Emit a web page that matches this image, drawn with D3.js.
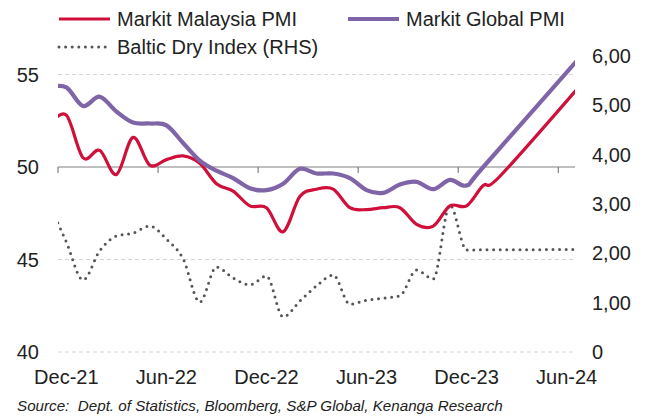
<!DOCTYPE html>
<head>
  <meta charset="utf-8">
  <script src="https://cdn.jsdelivr.net/npm/d3@7"></script>
  <style>
    body { margin: 0; background: #fff; }
    svg { width: 646px; height: 416px; font-family: "Liberation Sans", Arial, sans-serif; }
  </style>
</head>

<body>
  <svg></svg>

  <script>
    // months Nov-21 .. Jul-24 (Nov-21 and Jul-24 sit just outside the plot and get clipped)
    const months = d3.timeMonth.range(new Date(2021, 10, 1), new Date(2024, 7, 1));

    const malaysiaPMI = [52.3, 52.8, 50.5, 50.9, 49.6, 51.6, 50.1, 50.4, 50.6, 50.2, 49.1, 48.7,
      47.9, 47.8, 46.5, 48.4, 48.8, 48.8, 47.8, 47.7, 47.8, 47.8, 46.9, 46.8, 47.9, 47.9,
      49.0, 49.5, null, null, null, null, 54.6];

    const globalPMI = [54.3, 54.3, 53.3, 53.8, 53.0, 52.4, 52.35, 52.25, 51.3, 50.35, 49.8, 49.4,
      48.85, 48.75, 49.1, 49.9, 49.65, 49.65, 49.4, 48.75, 48.6, 49.05, 49.2, 48.8, 49.3, 49.0,
      50.0, null, null, null, null, null, 56.14];

    const balticDry = [2.98, 2.23, 1.46, 2.05, 2.35, 2.41, 2.55, 2.29, 1.89, 1.01, 1.72, 1.5,
      1.36, 1.54, 0.71, 1.03, 1.34, 1.56, 0.97, 1.05, 1.09, 1.14, 1.66, 1.48, 2.98, 2.07,
      null, null, null, null, null, null, 2.08];

    const leftTicks = [40, 45, 50, 55];
    const rightTicks = [0, 1, 2, 3, 4, 5, 6];
    const xTickMonths = [1, 7, 13, 19, 25, 31]; // Dec-21 .. Jun-24
    const sourceText = 'Source:  Dept. of Statistics, Bloomberg, S&P Global, Kenanga Research';

    const plotL = 58, plotR = 575, plotT = 56, plotB = 352;
    const fmt = d3.timeFormat('%b-%y');
    const fmtRight = d => d === 0 ? '0' : d3.format('.2f')(d).replace('.', ',');

    const svg = d3.select('svg');

    // category index scale: month i occupies [i-1, i] relative to Dec-21, point drawn in the middle
    const x = d3.scaleLinear().domain([1, 32]).range([plotL, plotR]);
    const px = i => x(i + 0.5);
    const y = d3.scaleLinear().domain([40, 56]).range([plotB, plotT]);
    const yR = d3.scaleLinear().domain([0, 6]).range([plotB, plotT]);

    svg.append('clipPath').attr('id', 'plot')
      .append('rect').attr('x', plotL).attr('y', 0).attr('width', plotR - plotL).attr('height', plotB + 10);

    // gridlines
    svg.append('g').selectAll('line')
      .data(leftTicks.filter(d => d !== 50)).enter().append('line')
      .attr('x1', plotL).attr('x2', plotR)
      .attr('y1', d => y(d)).attr('y2', d => y(d))
      .attr('stroke', '#d4d4d4').attr('stroke-width', 1).attr('stroke-dasharray', '4 3');

    // left labels
    svg.append('g').selectAll('text')
      .data(leftTicks).enter().append('text')
      .attr('x', 39).attr('y', d => y(d)).attr('dy', '0.35em')
      .attr('text-anchor', 'end').attr('font-size', 20).attr('fill', '#222')
      .text(d => d);

    // right labels
    svg.append('g').selectAll('text')
      .data(rightTicks).enter().append('text')
      .attr('x', 592).attr('y', d => yR(d)).attr('dy', '0.35em')
      .attr('font-size', 20).attr('fill', '#222')
      .text(fmtRight);

    // x axis at 50
    const ax = svg.append('g');
    ax.append('line').attr('x1', plotL).attr('x2', plotR)
      .attr('y1', y(50)).attr('y2', y(50)).attr('stroke', '#808080').attr('stroke-width', 1.2);
    ax.selectAll('.tick').data(xTickMonths).enter().append('line')
      .attr('x1', d => x(d)).attr('x2', d => x(d))
      .attr('y1', y(50)).attr('y2', y(50) + 6).attr('stroke', '#808080').attr('stroke-width', 1.2);
    svg.append('g').selectAll('text')
      .data(xTickMonths).enter().append('text')
      .attr('x', d => px(d)).attr('y', 384)
      .attr('text-anchor', 'middle').attr('font-size', 20).attr('fill', '#222')
      .text(d => fmt(months[d]));

    const series = (values, scale) => values.map((v, i) => ({ i, v })).filter(d => d.v !== null)
      .map(d => [px(d.i), scale(d.v)]);
    const line = d3.line().curve(d3.curveCardinal.tension(0));
    const flatLine = d3.line().curve(d3.curveMonotoneX);

    const lines = svg.append('g').attr('clip-path', 'url(#plot)');
    lines.append('path').attr('d', flatLine(series(balticDry, yR)))
      .attr('fill', 'none').attr('stroke', '#555').attr('stroke-width', 3)
      .attr('stroke-linecap', 'round').attr('stroke-dasharray', '0 6.6');
    lines.append('path').attr('d', line(series(malaysiaPMI, y)))
      .attr('fill', 'none').attr('stroke', '#d0103a').attr('stroke-width', 3.2);
    lines.append('path').attr('d', line(series(globalPMI, y)))
      .attr('fill', 'none').attr('stroke', '#8064a8').attr('stroke-width', 4.2);

    // legend
    const legend = [
      { name: 'Markit Malaysia PMI', lx: 58, ly: 19, color: '#d0103a', w: 3.2, dash: null },
      { name: 'Markit Global PMI', lx: 347, ly: 19, color: '#8064a8', w: 4.2, dash: null },
      { name: 'Baltic Dry Index (RHS)', lx: 58, ly: 47, color: '#555', w: 3, dash: '0 6.6' }
    ];
    const lg = svg.append('g').selectAll('g').data(legend).enter().append('g');
    lg.append('line')
      .attr('x1', d => d.lx + 1).attr('x2', d => d.lx + 52)
      .attr('y1', d => d.ly).attr('y2', d => d.ly)
      .attr('stroke', d => d.color).attr('stroke-width', d => d.w)
      .attr('stroke-linecap', d => d.dash ? 'round' : 'butt')
      .attr('stroke-dasharray', d => d.dash);
    lg.append('text')
      .attr('x', d => d.lx + 59).attr('y', d => d.ly + 7)
      .attr('font-size', 20).attr('fill', '#222')
      .text(d => d.name);

    svg.append('text').attr('x', 17).attr('y', 411)
      .attr('font-size', 15.2).attr('font-style', 'italic').attr('fill', '#222')
      .style('white-space', 'pre')
      .text(sourceText);
  </script>
</body>
